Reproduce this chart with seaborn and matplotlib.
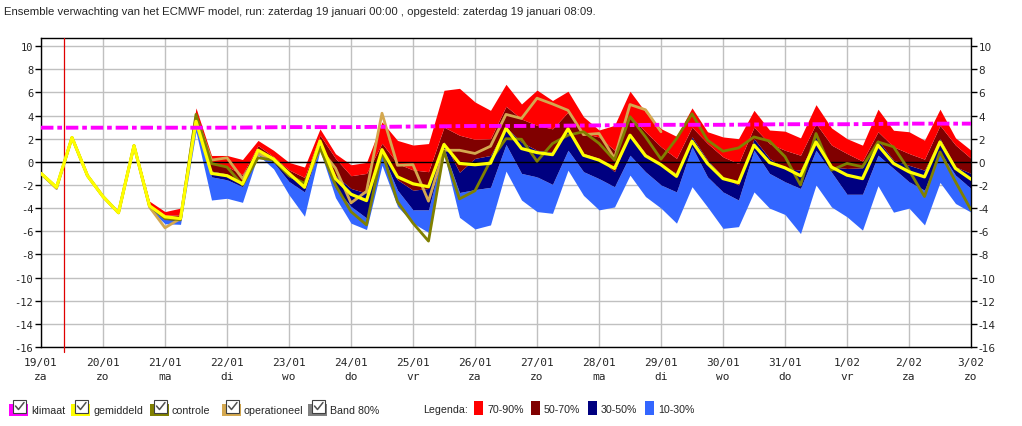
import numpy as np
import pandas as pd
import seaborn as sns
import matplotlib.pyplot as plt
from matplotlib.patches import Rectangle
from matplotlib.lines import Line2D

# 6-hourly steps from 19/01 00:00 to 3/02 00:00 (61 points)
p10 = [-1.2, -2.4, 2.0, -1.3, -3.1, -4.5, 1.3, -4.1, -5.35, -5.4,
       2.6, -3.3, -3.15, -3.5, 0.6, -0.6, -2.85, -4.7, 1.0, -3.1,
       -5.3, -5.85, -0.3, -3.85, -5.3, -6.1, 0.72, -4.8, -5.8, -5.45,
       -0.8, -3.3, -4.3, -4.45, -0.72, -2.9, -4.15, -3.9, -1.15, -3.0,
       -4.0, -5.3, -2.15, -3.9, -5.75, -5.6, -2.6, -4.0, -4.55, -6.2,
       -2.0, -3.9, -4.75, -5.9, -2.07, -4.35, -4.0, -5.45, -1.78, -3.6,
       -4.35]
p30 = [-1.1, -2.3, 2.05, -1.25, -3.05, -4.45, 1.35, -3.95, -5.0, -5.1,
       3.0, -1.3, -1.55, -2.15, 0.85, -0.05, -1.7, -2.6, 1.3, -2.3,
       -3.85, -4.85, 0.7, -2.45, -4.15, -4.15, 1.15, -2.65, -2.4, -2.2,
       1.5, -1.0, -1.3, -1.95, 1.0, -0.85, -1.45, -2.15, 0.57, -0.86,
       -2.0, -2.6, 1.3, -1.3, -2.6, -3.3, 1.0, -1.0, -1.72, -2.3,
       1.0, -0.9, -2.8, -2.8, 0.57, -0.57, -1.72, -2.45, 0.86, -1.15,
       -2.3]
p50 = [-1.0, -2.2, 2.1, -1.2, -3.0, -4.4, 1.4, -3.85, -4.8, -4.9,
       3.4, -0.8, -1.05, -1.75, 1.0, 0.15, -1.3, -1.85, 1.7, -1.2,
       -2.3, -2.7, 1.15, -1.55, -2.45, -2.3, 1.72, -0.9, 0.3, 0.55,
       3.0, 1.7, 1.0, 0.85, 3.0, 0.72, 0.3, -0.85, 2.45, 0.72,
       -0.3, -1.0, 2.15, 0.15, -1.3, -2.0, 2.0, 0.3, -0.57, -0.72,
       2.15, -0.45, -0.57, -0.52, 1.87, 0.14, -0.3, -0.72, 2.0, -0.43,
       -1.0]
p70 = [-1.0, -2.2, 2.1, -1.2, -3.0, -4.4, 1.45, -3.7, -4.6, -4.6,
       3.9, -0.1, -0.4, -1.1, 1.4, 0.45, -0.7, -1.35, 2.3, 0.3,
       -1.2, -1.0, 1.6, -0.15, -0.7, -0.85, 3.0, 2.3, 1.95, 2.0,
       4.8, 3.7, 3.15, 2.85, 4.3, 2.45, 2.15, 1.0, 4.0, 2.6,
       1.3, 0.3, 3.0, 1.6, 0.43, -0.15, 3.0, 1.58, 1.0, 0.57,
       3.3, 1.45, 0.72, 0.06, 2.6, 1.3, 0.72, 0.23, 3.15, 1.45,
       0.3]
p90 = [-0.9, -2.1, 2.2, -1.1, -2.9, -4.3, 1.6, -3.4, -4.3, -4.0,
       4.66, 0.55, 0.55, 0.2, 1.85, 1.0, -0.05, -0.45, 2.85, 0.7,
       -0.25, -0.05, 3.45, 1.85, 1.45, 1.58, 6.18, 6.35, 5.17, 4.45,
       6.7, 5.0, 6.2, 5.3, 6.1, 3.9, 2.75, 3.15, 6.1, 4.3,
       2.87, 2.2, 4.66, 2.6, 2.15, 2.0, 4.45, 2.75, 2.65, 2.07,
       4.94, 2.93, 2.0, 1.44, 4.55, 2.73, 2.6, 1.87, 4.55, 2.07,
       1.0]
gemiddeld = [-1.0, -2.2, 2.1, -1.2, -3.0, -4.4, 1.4, -3.8, -4.75, -4.9,
             3.5, -1.0, -1.2, -1.9, 1.0, 0.25, -1.0, -2.2, 1.8, -1.45,
             -2.8, -3.35, 1.05, -1.3, -1.9, -2.15, 1.5, -0.14, -0.25, -0.12,
             2.9, 1.15, 0.8, 0.62, 2.85, 0.57, 0.15, -0.57, 2.3, 0.52,
             -0.25, -1.25, 1.78, -0.14, -1.45, -1.8, 1.45, -0.06, -0.52, -1.2,
             1.72, -0.45, -1.15, -1.45, 1.44, -0.14, -0.86, -1.3, 1.72, -0.57,
             -1.5]
controle = [-1.0, -2.2, 2.1, -1.2, -3.0, -4.4, 1.4, -3.8, -4.9, -5.0,
            4.1, -0.15, -0.45, -2.0, 0.35, 0.15, -1.2, -1.85, 1.2, -2.0,
            -4.3, -5.45, 0.9, -3.45, -5.3, -6.85, 0.92, -3.2, -2.5, 0.1,
            2.0, 1.95, 0.05, 1.58, 2.3, 2.6, 1.6, 0.15, 3.9, 2.16,
            0.23, 2.0, 4.15, 1.87, 0.92, 1.2, 2.15, 1.8, 0.45, -2.0,
            2.45, -0.72, -0.14, -0.43, 1.72, 1.3, -0.72, -3.0, 0.86, -1.72,
            -4.15]
operationeel = [-1.0, -2.3, 2.1, -1.2, -3.0, -4.4, 1.4, -3.9, -5.7, -4.9,
                3.9, 0.15, 0.35, -1.45, 0.7, 0.2, -1.1, -2.0, 1.15, -0.55,
                -3.55, -2.55, 4.2, -0.3, -0.25, -3.4, 1.0, 1.0, 0.72, 1.35,
                4.1, 3.75, 5.5, 5.0, 4.45, 2.35, 2.45, 0.3, 4.95, 4.5,
                2.6] + [np.nan] * 20
# climate value per day (19/01 .. 3/02)
klimaat = [2.95, 2.95, 2.95, 2.95, 3.0, 3.0, 3.05, 3.1, 3.1, 3.15,
           3.2, 3.2, 3.25, 3.25, 3.3, 3.3]

dates = ['19/01', '20/01', '21/01', '22/01', '23/01', '24/01', '25/01', '26/01',
         '27/01', '28/01', '29/01', '30/01', '31/01', '1/02', '2/02', '3/02']
days = ['za', 'zo', 'ma', 'di', 'wo', 'do', 'vr', 'za',
        'zo', 'ma', 'di', 'wo', 'do', 'vr', 'za', 'zo']

t = np.arange(len(p10)) * 0.25
df = pd.DataFrame({'t': t, 'p10': p10, 'p30': p30, 'p50': p50, 'p70': p70,
                   'p90': p90, 'gemiddeld': gemiddeld, 'controle': controle,
                   'operationeel': operationeel})
df_klim = pd.DataFrame({'t': np.arange(len(klimaat)), 'klimaat': klimaat})

sns.set_style('white')
plt.rcParams['font.family'] = ['DejaVu Sans']
plt.rcParams['axes.unicode_minus'] = False

fig = plt.figure(figsize=(10.22, 4.27), dpi=100)
ax = fig.add_axes([41 / 1022, 1 - 348 / 427, 930 / 1022, (348 - 39) / 427])

# bands
ax.fill_between(df['t'], df['p10'], df['p30'], color='#3366FF', lw=0, zorder=2)
ax.fill_between(df['t'], df['p30'], df['p50'], color='#000080', lw=0, zorder=2)
ax.fill_between(df['t'], df['p50'], df['p70'], color='#800000', lw=0, zorder=2)
ax.fill_between(df['t'], df['p70'], df['p90'], color='#FF0000', lw=0, zorder=2)

ax.axhline(0, color='black', lw=1, zorder=3)
ax.axvline(0.375, color='#E00000', lw=0.9, zorder=3, clip_on=False, ymin=-0.016)

sns.lineplot(data=df.dropna(), x='t', y='operationeel', color='#D4A84F', lw=2,
             estimator=None, ax=ax, zorder=4)
sns.lineplot(data=df, x='t', y='controle', color='#808000', lw=2,
             estimator=None, ax=ax, zorder=5)
sns.lineplot(data=df, x='t', y='gemiddeld', color='#FFFF00', lw=2.3,
             estimator=None, ax=ax, zorder=6)
sns.lineplot(data=df_klim, x='t', y='klimaat', color='#FF00FF', lw=2.8,
             linestyle=(0, (3.2, 1.0, 1.2, 1.0)), estimator=None, ax=ax, zorder=7)

ax.set_xlim(0, 15)
ax.set_ylim(-16, 10.7)
ax.set_yticks(np.arange(-16, 11, 2))
ax.set_xticks(np.arange(16))
ax.set_xticklabels([d + '\n' + w for d, w in zip(dates, days)], linespacing=1.5,
                   family='DejaVu Sans Mono')
for lab in ax.get_yticklabels():
    lab.set_family('DejaVu Sans Mono')
ax.set_xlabel('')
ax.set_ylabel('')
ax.grid(True, color='#C0C0C0', lw=1, zorder=0)
ax.set_axisbelow(True)
for s in ax.spines.values():
    s.set_color('black')
    s.set_linewidth(1)
ax.tick_params(axis='y', direction='out', length=4, width=1, color='black',
               labelsize=7.5, right=True, labelright=True, left=True, pad=1.5)
ax.tick_params(axis='x', direction='out', length=5, width=1, color='#C0C0C0',
               labelsize=8, pad=2.5)

fig.text(4 / 1022, 1 - 12 / 427, 'Ensemble verwachting van het ECMWF model, run: zaterdag 19 januari 00:00 , '
         'opgesteld: zaterdag 19 januari 08:09.', fontsize=8.2, family='Liberation Sans',
         va='center', ha='left')

# legend row drawn in pixel coordinates
lg = fig.add_axes([0, 0, 1, 1], facecolor='none')
lg.set_xlim(0, 1022)
lg.set_ylim(427, 0)
lg.axis('off')

checks = [('klimaat', '#FF00FF', 9, 31), ('gemiddeld', '#FFFF00', 71, 94),
          ('controle', '#808000', 150, 172), ('operationeel', '#D4A84F', 222, 243),
          ('Band 80%', '#808080', 308, 330)]
for label, col, x0, xt in checks:
    lg.add_patch(Rectangle((x0, 405), 19, 12, color=col, lw=0))
    lg.add_patch(Rectangle((x0 + 4, 401), 13, 13, facecolor='white',
                           edgecolor='#404040', lw=0.8))
    lg.add_line(Line2D([x0 + 6.5, x0 + 9.5, x0 + 15], [407, 410.5, 403.5],
                       color='#505050', lw=1.1))
    lg.text(xt, 411, label, fontsize=7.7, family='Liberation Sans', va='center')

lg.text(423, 410, 'Legenda:', fontsize=7.7, family='Liberation Sans', va='center')
bands = [('70-90%', '#FF0000', 474), ('50-70%', '#800000', 531),
         ('30-50%', '#000080', 588), ('10-30%', '#3366FF', 645)]
for label, col, x0 in bands:
    lg.add_patch(Rectangle((x0, 402), 9, 14, color=col, lw=0))
    lg.text(x0 + 13, 410, label, fontsize=7.7, family='Liberation Sans', va='center')

fig.savefig('out.png', dpi=100)
